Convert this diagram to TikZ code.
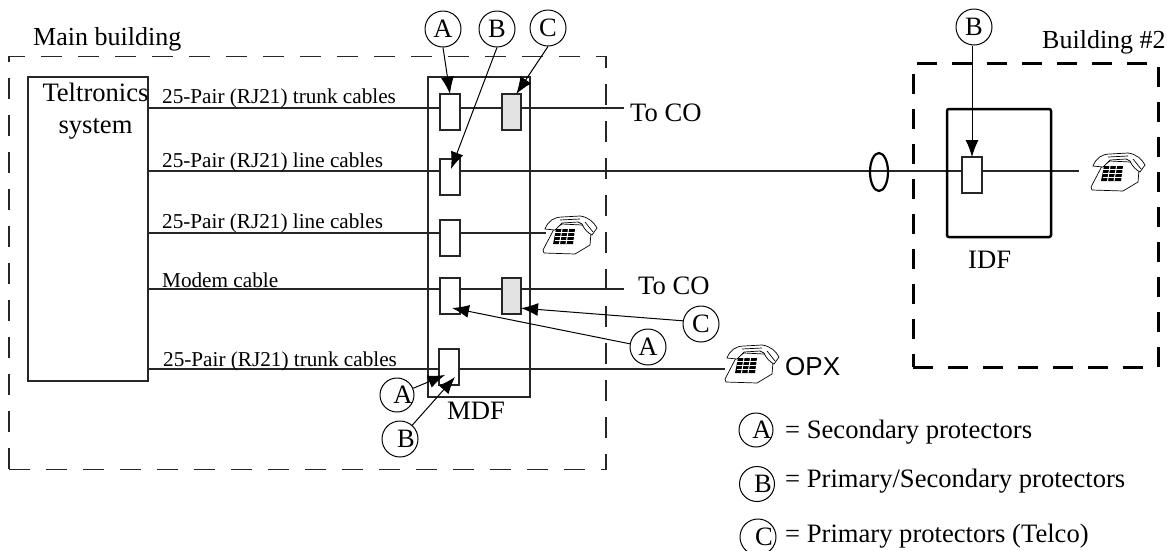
\documentclass[tikz,border=0pt]{standalone}
\usepackage{fontspec}
\setmainfont{Liberation Serif}
\newfontfamily\opxfont{Liberation Sans}
\usepackage{tikz}
\usetikzlibrary{positioning,shapes.geometric,arrows.meta,backgrounds}
\tikzstyle{zone} = [draw, black!85, rectangle, line width=1.3pt, dash pattern=on 21pt off 16pt, inner sep=0pt, outer sep=0pt]
\tikzstyle{zonex} = [draw, rectangle, line width=3pt, dash pattern=on 20pt off 15pt, inner sep=0pt, outer sep=0pt]
\tikzstyle{frame} = [draw, black!85, rectangle, line width=1.3pt, inner sep=0pt, outer sep=0pt]
\tikzstyle{prot} = [draw, black!85, fill=white, rectangle, line width=1.2pt, minimum width=20pt, minimum height=36pt, inner sep=0pt, outer sep=0pt]
\tikzstyle{protx} = [prot, fill=black!11, minimum width=19pt]
\tikzstyle{tag} = [draw, circle, line width=1pt, minimum size=36pt, inner sep=0pt, font=\fontsize{26.5}{26.5}\selectfont]
\tikzstyle{lbl} = [anchor=base west, inner sep=0pt, font=\fontsize{26.6}{26.6}\selectfont]
\tikzstyle{zonelbl} = [anchor=base west, inner sep=0pt, font=\fontsize{26}{26}\selectfont]
\tikzstyle{cablelbl} = [anchor=base west, inner sep=0pt, font=\fontsize{21.2}{22}\selectfont]
\tikzstyle{phonebox} = [rectangle, minimum width=54pt, minimum height=38pt, inner sep=0pt]
\tikzstyle{cableline} = [line width=1.2pt, black!85]
\tikzstyle{pointer} = [->, line width=1pt]
\newcommand{\offtag}[1]{\makebox[0pt]{\hspace{12pt}#1}}
\tikzset{
	telephone/.pic={
		\draw [fill=white, line width=0.7pt] (-16,-6) -- (-27,15) -- (-26,18) -- (5,19) -- (20,10) -- (21,-2) -- (12,-10) -- (-8,-11) -- cycle;
		\draw [fill=white, line width=0.7pt] (-25,-6) .. controls (-22,-14) and (-16,-18) .. (-8,-18) -- (10,-19) .. controls (18,-18) and (24,-13) .. (27,-7) -- (22,0) .. controls (18,-2) and (14,-6) .. (12,-11) -- (8,-13) -- (-8,-12) -- (-15,-5) -- cycle;
		\draw [line width=0.7pt] (-10,-15) -- (10,-16);
		\draw [line width=0.7pt] (15,-13) -- (23,-3);
		\fill (-14,-6) -- (5,-6) -- (3,9) -- (-17,9) -- cycle;
		\foreach \i in {1,2,3} {
			\draw [white, line width=1pt] (-15,-6+3.75*\i) -- (5,-6+3.75*\i);
		}
		\draw [white, line width=1pt] (-8,-6) -- (-10.5,9);
		\draw [white, line width=1pt] (-1.5,-6) -- (-4,9);
	}
}

\begin{document}
\begin{tikzpicture}[x=1pt, y=-1pt, >={Latex[length=17pt,width=13pt]}]
		\path [use as bounding box, clip] (0,0) rectangle (1167,550);

		\node (mainb) [zone, minimum width=597pt, minimum height=413pt] at (307.5,263) {};
		\node (bldg2) [zonex, minimum width=245pt, minimum height=304pt] at (1035.5,215) {};
		\node (mainlbl) [zonelbl] at (33,45) {Main building};
		\node (bldglbl) [zonelbl] at (1042,48) {Building \#2};

		\node (telt) [frame, minimum width=120pt, minimum height=304pt] at (88,229) {};
		\node (telttxt) [lbl, anchor=north, align=center, font=\fontsize{26.6}{32}\selectfont] at (95.5,83) {Teltronics\\system};
		\node (mdf) [frame, minimum width=102pt, minimum height=320pt] at (479,237) {};
		\node (mdflbl) [lbl] at (447,419) {MDF};
		\node (idf) [frame, black, line width=2.5pt, rounded corners=2pt, minimum width=104pt, minimum height=128pt] at (999,173) {};
		\node (idflbl) [lbl] at (968,268) {IDF};

		\node (prot1) [prot] at (450,112) {};
		\node (prot2) [prot, below=29pt of prot1] {};
		\node (prot3) [prot, below=25pt of prot2] {};
		\node (prot4) [prot, below=22pt of prot3] {};
		\node (prot5) [prot, below=35pt of prot4, xshift=-1pt] {};
		\node (grey1) [protx] at (511.5,112) {};
		\node (grey2) [protx] at (511.5,296) {};
		\node (idfprot) [prot] at (972,175) {};
		\node (cable) [draw, ellipse, line width=2.2pt, minimum width=18pt, minimum height=38pt, inner sep=0pt] at (879,172) {};

		\coordinate (co1) at (624,108);
		\coordinate (co2) at (624,289);
		\coordinate (end2) at (1079,171);
		\coordinate (ph1) at (546,233);
		\coordinate (ph3) at (725,369);

		\node (cable1) [cablelbl] at (162,103) {25-Pair (RJ21) trunk cables};
		\node (cable2) [cablelbl] at (162,167) {25-Pair (RJ21) line cables};
		\node (cable3) [cablelbl] at (162,228) {25-Pair (RJ21) line cables};
		\node (cable4) [cablelbl] at (162,287) {Modem cable};
		\node (cable5) [cablelbl] at (163,366) {25-Pair (RJ21) trunk cables};
		\node (tocoa) [lbl] at (630,121) {To CO};
		\node (tocob) [lbl] at (638,294) {To CO};

		\node (phone1) [phonebox] at (570,235) {};
		\node (phone2) [phonebox] at (1118,172) {};
		\node (phone3) [phonebox] at (752,364) {};
		\pic at (phone1) {telephone};
		\pic at (phone2) {telephone};
		\pic at (phone3) {telephone};
		\node (opx) [lbl, font=\fontsize{26}{26}\opxfont] at (785,375) {OPX};

		\begin{scope}[on background layer]
			\draw [cableline] (co1 -| telt.east) -- (co1);
			\draw [cableline] (end2 -| telt.east) -- (end2);
			\draw [cableline] (ph1 -| telt.east) -- (ph1);
			\draw [cableline] (co2 -| telt.east) -- (co2);
			\draw [cableline] (ph3 -| telt.east) -- (ph3);
		\end{scope}

		\node (a1) [tag] at (443,29) {A};
		\node (b1) [tag] at (497,29) {B};
		\node (c1) [tag] at (548,28) {C};
		\node (a2) [tag] at (648,347) {A};
		\node (c2) [tag] at (701,324) {C};
		\node (a3) [tag, minimum size=34pt] at (397,395) {\offtag{A}};
		\node (b3) [tag] at (400,439) {\offtag{B}};
		\node (b4) [tag] at (974,27) {B};

		\draw [pointer] (a1.south) -- (prot1.north);
		\draw [pointer] (b1.south) -- ([xshift=1pt,yshift=-10pt]prot2.north);
		\draw [pointer] (c1.south) -- (grey1.75);
		\draw [pointer] (a2.170) -- ([xshift=2pt,yshift=-12pt]prot4.center);
		\draw [pointer] (c2.170) -- (grey2.-52);
		\draw [pointer] (a3) -- ([xshift=-4pt,yshift=-8pt]prot5.center);
		\draw [pointer] (b3) -- ([xshift=6pt,yshift=-10pt]prot5.center);
		\draw [pointer] (b4.south -| idfprot.center) -- (idfprot.north);

		\node (lega) [tag, minimum size=34pt] at (756,430) {\offtag{A}};
		\node (legb) [tag, minimum size=35pt] at (757,484) {\offtag{B}};
		\node (legc) [tag] at (758,537) {\offtag{C}};
		\node (legatxt) [lbl] at (785,438) {= Secondary protectors};
		\node (legbtxt) [lbl] at (785,487) {= Primary/Secondary protectors};
		\node (legctxt) [lbl] at (785,542) {= Primary protectors (Telco)};
	\end{tikzpicture}
\end{document}
